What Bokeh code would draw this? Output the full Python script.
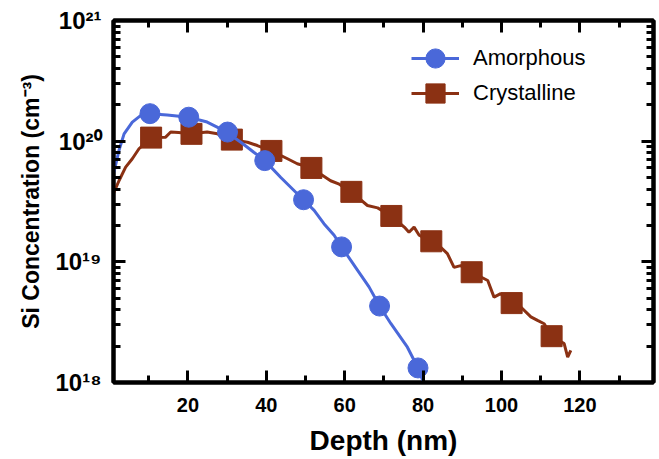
from bokeh.plotting import figure
from bokeh.models import (Range1d, LinearAxis, LogAxis, FixedTicker, CustomJSTickFormatter,
                          Legend, LegendItem)
from bokeh.embed import file_html
from bokeh.resources import INLINE

# ---- data ----
amor_line_depth = [1.1, 2.4, 3.7, 5.8, 7.9, 10.3, 14.7, 20.2, 24.9, 29.1, 33.5, 36.8, 39.6,
                   43.7, 47.9, 49.5, 52.2, 54.7, 57.3, 59.2, 63.3, 66.2, 68.9, 71.8, 76.0,
                   78.7, 80.1]
amor_line_conc = [5.5e19, 8.4e19, 1.15e20, 1.44e20, 1.63e20, 1.69e20, 1.65e20, 1.58e20,
                  1.44e20, 1.23e20, 9.8e19, 8.1e19, 6.9e19, 5.0e19, 3.67e19, 3.27e19,
                  2.67e19, 2.07e19, 1.66e19, 1.33e19, 8.5e18, 6.2e18, 4.3e18, 3.07e18,
                  1.96e18, 1.32e18, 1.0e18]
amor_marker_depth = [10.3, 20.2, 30.1, 39.6, 49.5, 59.2, 68.9, 78.7]
amor_marker_conc = [1.69e20, 1.58e20, 1.19e20, 6.9e19, 3.27e19, 1.33e19, 4.3e18, 1.32e18]

cryst_line_depth = [0.95, 2.4, 4.1, 5.8, 7.5, 10.6, 14.3, 15.6, 17.6, 20.9, 24.9, 27.5, 31.2,
                    35.2, 37.7, 41.3, 45.4, 47.9, 51.5, 56.4, 58.6, 61.7, 65.8, 68.4, 71.9,
                    75.2, 76.4, 77.7, 79.0, 82.1, 84.5, 86.2, 87.9, 89.6, 92.4, 96.5, 98.1,
                    99.8, 102.6, 105.0, 107.5, 109.2, 110.9, 112.8, 116.0, 116.9, 117.7]
cryst_line_conc = [3.66e19, 4.7e19, 6.1e19, 7.15e19, 8.65e19, 1.07e20, 1.08e20, 1.19e20,
                   1.18e20, 1.15e20, 1.19e20, 1.15e20, 1.03e20, 9.8e19, 9.2e19, 8.3e19,
                   7.15e19, 6.5e19, 6.0e19, 4.7e19, 4.4e19, 3.8e19, 2.93e19, 2.8e19, 2.4e19,
                   1.94e19, 1.76e19, 1.94e19, 1.66e19, 1.48e19, 1.32e19, 1.17e19, 9.0e18,
                   9.3e18, 8.2e18, 7.0e18, 5.1e18, 5.45e18, 4.55e18, 4.2e18, 3.5e18, 3.27e18,
                   3.07e18, 2.42e18, 2.1e18, 1.62e18, 1.85e18]
cryst_marker_depth = [10.6, 20.9, 31.2, 41.3, 51.5, 61.7, 71.9, 82.1, 92.4, 102.6, 112.8]
cryst_marker_conc = [1.07e20, 1.15e20, 1.03e20, 8.3e19, 6.0e19, 3.8e19, 2.4e19, 1.48e19,
                     8.2e18, 4.55e18, 2.42e18]

series_names = ["Amorphous", "Crystalline"]
x_major_ticks = [20, 40, 60, 80, 100, 120]
x_minor_ticks = [10, 30, 50, 70, 90, 110, 130]
y_major_ticks = [1e18, 1e19, 1e20, 1e21]
y_tick_labels = ["10¹⁸", "10¹⁹", "10²⁰", "10²¹"]
y_minor_ticks = [m * 10.0 ** k for k in (18, 19, 20) for m in range(2, 10)]

BLUE = "#4a68d9"
BROWN = "#8b3113"
FONT = "Liberation Sans"

p = figure(width=659, height=459, x_range=Range1d(1, 138.8), y_range=Range1d(1e18, 1e21),
           y_axis_type="log", output_backend="svg", toolbar_location=None,
           min_border_left=113, min_border_right=6, min_border_top=20, min_border_bottom=77)
p.grid.visible = False
p.outline_line_color = "black"
p.outline_line_width = 4
p.background_fill_color = "white"
p.border_fill_color = "white"

x_ticker = FixedTicker(ticks=x_major_ticks, minor_ticks=x_minor_ticks)
y_ticker = FixedTicker(ticks=y_major_ticks, minor_ticks=y_minor_ticks)


def style_axis(ax):
    ax.axis_line_width = 4
    ax.axis_line_color = "black"
    ax.major_tick_line_width = 3
    ax.minor_tick_line_width = 3
    ax.major_tick_line_color = "black"
    ax.minor_tick_line_color = "black"
    ax.major_tick_in = 12
    ax.major_tick_out = 0
    ax.minor_tick_in = 7
    ax.minor_tick_out = 0
    ax.major_label_text_color = "black"
    ax.axis_label_text_color = "black"


xa = p.xaxis[0]
xa.ticker = x_ticker
style_axis(xa)
xa.major_label_text_font = FONT
xa.major_label_text_font_style = "bold"
xa.major_label_text_font_size = "20px"
xa.major_label_standoff = 15
xa.axis_label = "Depth (nm)"
xa.axis_label_text_font = FONT
xa.axis_label_text_font_style = "bold"
xa.axis_label_text_font_size = "28px"
xa.axis_label_standoff = 10

ya = p.yaxis[0]
ya.ticker = y_ticker
ya.formatter = CustomJSTickFormatter(
    args=dict(tick_vals=y_major_ticks, tick_texts=y_tick_labels),
    code="""
const i = tick_vals.findIndex(t => Math.abs(Math.log10(t) - Math.log10(tick)) < 1e-6);
return i >= 0 ? tick_texts[i] : '';
""")
style_axis(ya)
ya.major_label_text_font = FONT
ya.major_label_text_font_style = "bold"
ya.major_label_text_font_size = "24px"
ya.major_label_standoff = 12
ya.axis_label = "Si Concentration (cm⁻³)"
ya.axis_label_text_font = FONT
ya.axis_label_text_font_style = "bold"
ya.axis_label_text_font_size = "23px"
ya.axis_label_standoff = 8

ta = LinearAxis(ticker=x_ticker, formatter=CustomJSTickFormatter(code="return ''"))
style_axis(ta)
ta.major_label_standoff = 0
p.add_layout(ta, "above")

ra = LogAxis(ticker=y_ticker, formatter=CustomJSTickFormatter(code="return ''"))
style_axis(ra)
ra.major_label_standoff = 0
p.add_layout(ra, "right")

c_line = p.line(cryst_line_depth, cryst_line_conc, line_color=BROWN, line_width=3)
c_sc = p.scatter(cryst_marker_depth, cryst_marker_conc, marker="square", size=21,
                 fill_color=BROWN, line_color=BROWN)
a_line = p.line(amor_line_depth, amor_line_conc, line_color=BLUE, line_width=3)
a_sc = p.scatter(amor_marker_depth, amor_marker_conc, marker="circle", size=20,
                 fill_color=BLUE, line_color=BLUE)

legend_style = dict(glyph_width=48, glyph_height=50, padding=0, margin=0,
                    border_line_color=None, background_fill_alpha=0, label_standoff=14,
                    label_text_font=FONT, label_text_font_size="22px", label_height=20,
                    label_text_color="black")
leg1 = Legend(items=[LegendItem(label=series_names[0], renderers=[a_line, a_sc])],
              location=(298, 299), **legend_style)
leg2 = Legend(items=[LegendItem(label=series_names[1], renderers=[c_line, c_sc])],
              location=(298, 264), **legend_style)
p.add_layout(leg1)
p.add_layout(leg2)

open("out.html", "w").write(file_html(p, INLINE))
